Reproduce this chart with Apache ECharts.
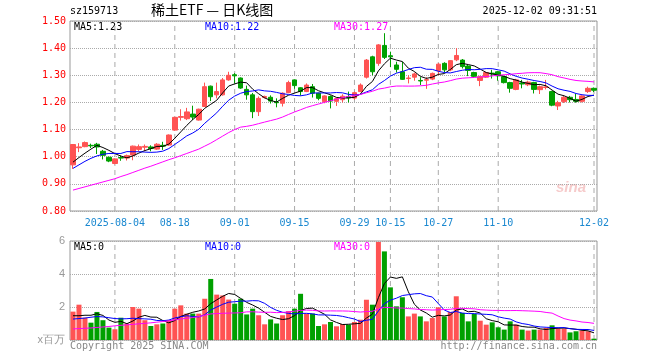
<!DOCTYPE html>
<html><head><meta charset="utf-8">
<script src="https://cdn.jsdelivr.net/npm/echarts@6/dist/echarts.min.js"></script>
<style>html,body{margin:0;padding:0;background:#fff}#c{width:660px;height:360px}</style>
</head><body><div id="c"></div>
<script>
const dates = [
'2025-07-24','2025-07-25','2025-07-28','2025-07-29','2025-07-30','2025-07-31',
'2025-08-01','2025-08-04','2025-08-05','2025-08-06','2025-08-07','2025-08-08','2025-08-11','2025-08-12','2025-08-13','2025-08-14','2025-08-15','2025-08-18','2025-08-19','2025-08-20','2025-08-21','2025-08-22','2025-08-25','2025-08-26','2025-08-27','2025-08-28','2025-08-29',
'2025-09-01','2025-09-02','2025-09-03','2025-09-04','2025-09-05','2025-09-08','2025-09-09','2025-09-10','2025-09-11','2025-09-12','2025-09-15','2025-09-16','2025-09-17','2025-09-18','2025-09-19','2025-09-22','2025-09-23','2025-09-24','2025-09-25','2025-09-26','2025-09-29','2025-09-30',
'2025-10-09','2025-10-10','2025-10-13','2025-10-14','2025-10-15','2025-10-16','2025-10-17','2025-10-20','2025-10-21','2025-10-22','2025-10-23','2025-10-24','2025-10-27','2025-10-28','2025-10-29','2025-10-30','2025-10-31',
'2025-11-03','2025-11-04','2025-11-05','2025-11-06','2025-11-07','2025-11-10','2025-11-11','2025-11-12','2025-11-13','2025-11-14','2025-11-17','2025-11-18','2025-11-19','2025-11-20','2025-11-21','2025-11-24','2025-11-25','2025-11-26','2025-11-27','2025-11-28',
'2025-12-01','2025-12-02'];

const opens = [0.970,1.033,1.037,1.042,1.046,1.020,0.998,0.975,0.997,0.995,
1.006,1.027,1.035,1.036,1.028,1.042,1.043,1.098,1.145,1.140,
1.157,1.135,1.185,1.260,1.228,1.228,1.283,1.302,1.290,1.248,
1.228,1.166,1.218,1.219,1.201,1.197,1.236,1.283,1.254,1.240,
1.258,1.234,1.203,1.222,1.204,1.210,1.221,1.216,1.240,1.293,
1.368,1.344,1.410,1.372,1.338,1.313,1.288,1.293,1.281,1.282,
1.286,1.317,1.344,1.320,1.357,1.356,1.334,1.310,1.281,1.293,
1.308,1.313,1.295,1.273,1.248,1.272,1.265,1.273,1.247,1.255,
1.240,1.187,1.203,1.219,1.211,1.204,1.240,1.252];
const closes = [1.045,1.036,1.052,1.040,1.036,1.005,0.984,0.992,0.995,1.004,
1.039,1.037,1.038,1.030,1.046,1.039,1.080,1.145,1.148,1.165,
1.146,1.175,1.258,1.221,1.240,1.283,1.300,1.298,1.253,1.228,
1.166,1.215,1.222,1.205,1.199,1.234,1.273,1.262,1.240,1.264,
1.234,1.215,1.224,1.205,1.214,1.223,1.217,1.236,1.264,1.356,
1.313,1.412,1.366,1.368,1.322,1.285,1.290,1.305,1.279,1.284,
1.307,1.341,1.320,1.354,1.373,1.332,1.318,1.296,1.295,1.310,
1.305,1.298,1.273,1.252,1.283,1.268,1.275,1.248,1.258,1.257,
1.190,1.199,1.219,1.210,1.204,1.224,1.252,1.245];
const highs = [1.046,1.050,1.056,1.048,1.051,1.025,1.000,0.994,1.005,1.008,
1.041,1.045,1.045,1.042,1.050,1.055,1.082,1.147,1.175,1.180,
1.188,1.177,1.273,1.262,1.273,1.290,1.313,1.308,1.292,1.262,
1.235,1.222,1.225,1.226,1.215,1.237,1.280,1.285,1.256,1.270,
1.268,1.236,1.226,1.226,1.218,1.230,1.240,1.240,1.270,1.360,
1.372,1.415,1.455,1.387,1.350,1.350,1.300,1.310,1.293,1.293,
1.310,1.345,1.348,1.356,1.400,1.360,1.338,1.313,1.298,1.313,
1.320,1.316,1.298,1.276,1.287,1.283,1.280,1.276,1.262,1.283,
1.243,1.206,1.224,1.224,1.232,1.226,1.258,1.255];
const lows = [0.955,1.017,1.035,1.032,1.010,0.990,0.980,0.972,0.985,0.986,
0.987,1.020,1.020,1.020,1.025,1.025,1.040,1.095,1.133,1.135,
1.135,1.133,1.183,1.205,1.215,1.225,1.280,1.270,1.250,1.210,
1.142,1.150,1.215,1.196,1.182,1.185,1.234,1.250,1.225,1.238,
1.218,1.208,1.197,1.178,1.187,1.200,1.200,1.210,1.238,1.288,
1.300,1.335,1.360,1.330,1.310,1.283,1.270,1.280,1.264,1.250,
1.282,1.300,1.310,1.315,1.352,1.325,1.297,1.290,1.260,1.290,
1.288,1.280,1.270,1.236,1.245,1.252,1.260,1.233,1.231,1.248,
1.186,1.172,1.198,1.200,1.199,1.200,1.235,1.238];
// volume in millions (x百万)
const volumes = [1.72,2.14,1.35,1.05,1.70,1.20,0.75,0.65,1.35,1.00,
2.00,1.90,1.20,0.85,0.95,1.00,1.20,1.90,2.10,1.60,
1.60,1.60,2.50,3.70,2.75,2.70,2.45,2.20,2.50,1.55,
1.90,1.50,0.95,1.25,1.00,1.50,1.75,1.90,2.80,1.60,
1.60,0.85,0.95,1.09,0.83,0.97,0.93,1.09,1.23,2.44,
2.14,5.94,5.37,3.19,2.04,2.59,1.43,1.60,1.43,1.13,
1.33,1.98,1.43,1.70,2.65,1.64,1.13,1.58,1.17,0.93,
1.07,0.77,0.63,1.13,0.93,0.63,0.57,0.63,0.63,0.73,
0.89,0.69,0.69,0.46,0.53,0.57,0.53,0.08];

// moving-average values for the first days (before enough history exists in the window)
const priceMa5Head = [0.980,0.997,1.013,1.028];
const priceMa10Head = [0.957,0.970,0.983,0.994,1.003,1.009,1.012,1.012,1.012];
const priceMa30Head = [0.877,0.883,0.889,0.895,0.901,0.907,0.913,0.919,0.927,0.934,
0.942,0.950,0.958,0.965,0.973,0.981,0.989,0.996,1.004,1.012,
1.020,1.028,1.039,1.050,1.063,1.076,1.089,1.100,1.109];
const volMa5Head = [1.47,1.47,1.50,1.50];
const volMa10Head = [1.27,1.30,1.33,1.38,1.42,1.40,1.35,1.30,1.28];
const volMa30Head = [0.67,0.69,0.71,0.73,0.76,0.79,0.82,0.86,0.89,0.92,
0.95,0.98,1.01,1.04,1.08,1.12,1.16,1.22,1.27,1.32,
1.36,1.42,1.50,1.58,1.60,1.62,1.63,1.64,1.65];

const dateTicks = ['2025-08-04','2025-08-18','2025-09-01','2025-09-15','2025-09-29','2025-10-15','2025-10-27','2025-11-10','2025-12-02'];
const priceMin = 0.8, priceMax = 1.5, priceStep = 0.1;
const volMin = 0, volMax = 6, volStep = 2;

const legendPrice = ['MA5:1.23','MA10:1.22','MA30:1.27'];
const legendVol = ['MA5:0','MA10:0','MA30:0'];

function ma(vals, n, head) {
  return vals.map((v, i) => {
    if (i < n - 1) return head[i];
    let s = 0;
    for (let k = i - n + 1; k <= i; k++) s += vals[k];
    return +(s / n).toFixed(4);
  });
}

const UP = '#ff5353', DOWN = '#00a000';
const MONO = '"DejaVu Sans Mono", "Liberation Mono", monospace';
const tickSet = new Set(dateTicks);
const tickFn = (idx, val) => tickSet.has(val);

const chart = echarts.init(document.getElementById('c'), null, {renderer: 'canvas'});
const gridL = 70, gridR = 63;

// vertical dashed date lines: one two-point line series per date tick, per panel
function dateLine(axisIdx, d, lo, hi) {
  return {
    type: 'line', xAxisIndex: axisIdx, yAxisIndex: axisIdx, silent: true, z: 1,
    symbol: 'none', showSymbol: false, animation: false,
    data: [[d, lo], [d, hi]],
    lineStyle: {color: '#aaaaaa', width: 1, type: [5, 4]},
    emphasis: {disabled: true}, tooltip: {show: false}
  };
}
const dateLines = [].concat(
  dateTicks.map(d => dateLine(0, d, priceMin, priceMax)),
  dateTicks.map(d => dateLine(1, d, volMin, volMax))
);

chart.setOption({
  animation: false,
  backgroundColor: '#fff',
  grid: [
    {left: gridL, right: gridR, top: 21, height: 190, show: true, borderColor: '#999', borderWidth: 1},
    {left: gridL, right: gridR, top: 241, height: 99, show: true, borderColor: '#999', borderWidth: 1}
  ],
  xAxis: [
    {type: 'category', gridIndex: 0, data: dates, boundaryGap: true,
      axisLine: {show: false}, axisTick: {show: false},
      axisLabel: {interval: tickFn, color: '#1a88d0', fontFamily: MONO, fontSize: 10, margin: 7,
        formatter: v => v === dateTicks[0] ? v : v.slice(5)},
      splitLine: {show: false}},
    {type: 'category', gridIndex: 1, data: dates, boundaryGap: true,
      axisLine: {show: false}, axisTick: {show: false}, axisLabel: {show: false},
      splitLine: {show: false}}
  ],
  yAxis: [
    {type: 'value', gridIndex: 0, min: priceMin, max: priceMax, interval: priceStep,
      axisLine: {show: false}, axisTick: {show: false},
      axisLabel: {color: '#ff0000', fontFamily: MONO, fontSize: 10, margin: 4, formatter: v => v.toFixed(2)},
      splitLine: {show: true, lineStyle: {color: '#aaa', type: 'dotted', width: 1}}},
    {type: 'value', gridIndex: 1, min: volMin, max: volMax, interval: volStep,
      axisLine: {show: false}, axisTick: {show: false},
      axisLabel: {color: '#999', fontFamily: '"Liberation Sans", Arial, sans-serif', fontSize: 11, margin: 5,
        formatter: v => v === 0 ? 'x百万' : String(v)},
      splitLine: {show: true, lineStyle: {color: '#aaa', type: 'dotted', width: 1}}}
  ],
  series: dateLines.concat([
    {type: 'candlestick', xAxisIndex: 0, yAxisIndex: 0, barWidth: 5, z: 3,
      data: dates.map((d, i) => [opens[i], closes[i], lows[i], highs[i]]),
      itemStyle: {color: UP, color0: DOWN, borderColor: UP, borderColor0: DOWN, borderWidth: 1}},
    {type: 'line', xAxisIndex: 0, yAxisIndex: 0, z: 4, data: ma(closes, 5, priceMa5Head), showSymbol: false, symbol: 'none', lineStyle: {color: '#000', width: 1}},
    {type: 'line', xAxisIndex: 0, yAxisIndex: 0, z: 4, data: ma(closes, 10, priceMa10Head), showSymbol: false, symbol: 'none', lineStyle: {color: '#0000ff', width: 1}},
    {type: 'line', xAxisIndex: 0, yAxisIndex: 0, z: 4, data: ma(closes, 30, priceMa30Head), showSymbol: false, symbol: 'none', lineStyle: {color: '#ff00ff', width: 1}},
    {type: 'bar', xAxisIndex: 1, yAxisIndex: 1, barWidth: 5, z: 3,
      data: volumes.map((v, i) => ({value: v, itemStyle: {color: closes[i] >= opens[i] ? UP : DOWN}}))},
    {type: 'line', xAxisIndex: 1, yAxisIndex: 1, z: 4, data: ma(volumes, 5, volMa5Head), showSymbol: false, symbol: 'none', lineStyle: {color: '#000', width: 1}},
    {type: 'line', xAxisIndex: 1, yAxisIndex: 1, z: 4, data: ma(volumes, 10, volMa10Head), showSymbol: false, symbol: 'none', lineStyle: {color: '#0000ff', width: 1}},
    {type: 'line', xAxisIndex: 1, yAxisIndex: 1, z: 4, data: ma(volumes, 30, volMa30Head), showSymbol: false, symbol: 'none', lineStyle: {color: '#ff00ff', width: 1}}
  ]),
  graphic: [
    {type: 'text', left: 70, top: 6, style: {text: 'sz159713', font: '10px ' + MONO, fill: '#000'}},
    {type: 'text', left: 151, top: 3, style: {text: '稀土ETF — 日K线图', font: '14px "Noto Sans CJK SC", sans-serif', fill: '#000'}},
    {type: 'text', right: 63, top: 6, style: {text: '2025-12-02 09:31:51', font: '10px ' + MONO, fill: '#000'}},
    {type: 'text', left: 74, top: 22, style: {text: legendPrice[0], font: '10px ' + MONO, fill: '#000'}},
    {type: 'text', left: 205, top: 22, style: {text: legendPrice[1], font: '10px ' + MONO, fill: '#0000ff'}},
    {type: 'text', left: 334, top: 22, style: {text: legendPrice[2], font: '10px ' + MONO, fill: '#ff00ff'}},
    {type: 'text', left: 74, top: 242, style: {text: legendVol[0], font: '10px ' + MONO, fill: '#000'}},
    {type: 'text', left: 205, top: 242, style: {text: legendVol[1], font: '10px ' + MONO, fill: '#0000ff'}},
    {type: 'text', left: 334, top: 242, style: {text: legendVol[2], font: '10px ' + MONO, fill: '#ff00ff'}},
    {type: 'text', left: 70, top: 341, style: {text: 'Copyright 2025 SINA.COM', font: '10px ' + MONO, fill: '#888'}},
    {type: 'text', right: 63, top: 341, style: {text: 'http://finance.sina.com.cn', font: '10px ' + MONO, fill: '#888'}},
    {type: 'text', left: 556, top: 180, style: {text: 'sina', font: 'italic bold 15px "Liberation Sans", sans-serif', fill: 'rgba(235,140,140,0.45)'}}
  ]
});
</script></body></html>
